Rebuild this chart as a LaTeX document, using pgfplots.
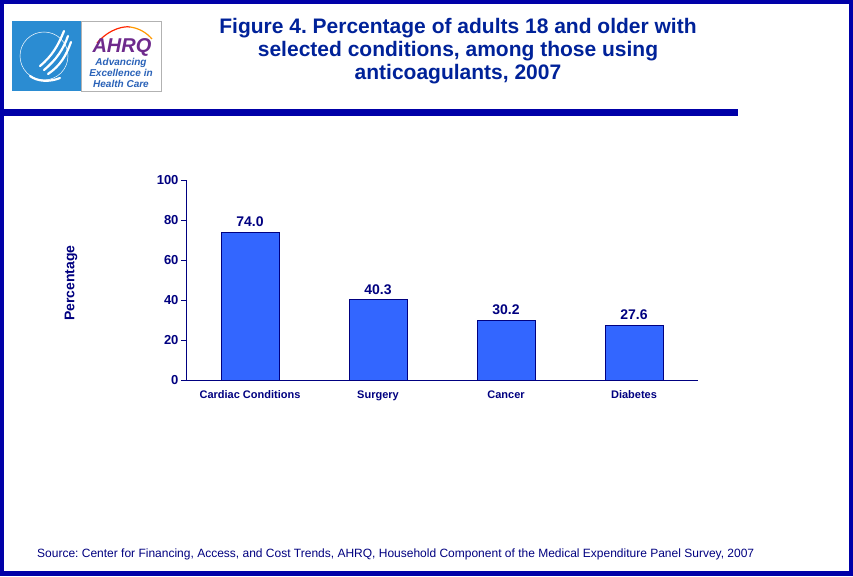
\documentclass[border=0pt]{standalone}
\usepackage{pgfplots}
\pgfplotsset{compat=1.18}
\usepackage{fontspec}
\setmainfont{Liberation Sans}
\frenchspacing
\definecolor{navy}{HTML}{000080}
\definecolor{framec}{HTML}{0000A8}
\definecolor{titlec}{HTML}{002299}
\definecolor{barblue}{HTML}{3366FF}
\definecolor{hhsblue}{HTML}{2B8CD2}
\definecolor{ahrqpurple}{HTML}{6E2A8C}
\definecolor{ahrqblue}{HTML}{2A62B8}
\begin{document}
\begin{tikzpicture}[x=1pt,y=1pt]
% canvas
\path[use as bounding box] (0,0) rectangle (853,576);
% frame
\fill[framec] (0,0) rectangle (853,576);
\fill[white] (4,5) rectangle (849,572);
% horizontal rule
\fill[framec] (0,460) rectangle (738,467);
% logo
\fill[hhsblue] (12,485) rectangle (81,555);
\draw[gray!60, line width=0.6] (81,485) rectangle (161,555);
\begin{scope}[white, line width=2.2, line cap=round]
\draw (40,510) .. controls (52,520) and (58,530) .. (64,545);
\draw (44,506) .. controls (56,516) and (63,526) .. (68,540);
\draw (48,502) .. controls (60,510) and (66,520) .. (71,534);
\draw (30,500) .. controls (38,494) and (50,494) .. (60,498);
\end{scope}
\draw[white, line width=0.5] (44,520) circle (24);
\draw[red!70!orange, line width=1.2] (97,533) .. controls (110,548) and (125,550) .. (130,549);
\draw[orange!80!yellow, line width=1.2] (130,549) .. controls (138,548) and (146,544) .. (152,537);
\node[ahrqpurple, font=\bfseries\itshape\fontsize{20}{20}\selectfont] at (122,529) {AHRQ};
\node[ahrqblue, font=\bfseries\itshape\fontsize{10}{11}\selectfont, align=center] at (121,503) {Advancing\\Excellence in\\Health Care};
% title
\node[titlec, font=\bfseries\fontsize{21}{23}\selectfont, align=center] at (458,525) {Figure 4. Percentage of adults 18 and older with\\selected conditions, among those using\\anticoagulants, 2007};
% source
\node[navy, anchor=west, inner sep=0pt, font=\fontsize{12}{12}\selectfont] at (37,22) {Source: Center for Financing, Access, and Cost Trends, AHRQ, Household Component of the Medical Expenditure Panel Survey, 2007};
% y label
\node[navy, rotate=90, font=\bfseries\fontsize{14}{14}\selectfont] at (71,293) {Percentage};
\begin{axis}[
  at={(186pt,195.5pt)}, anchor=south west,
  scale only axis, width=512pt, height=200pt,
  xmin=-0.5, xmax=3.5, ymin=0, ymax=100,
  axis lines*=left,
  axis line style={navy, line width=1pt},
  ytick={0,20,40,60,80,100},
  xtick={0,1,2,3},
  xticklabels={Cardiac Conditions, Surgery, Cancer, Diabetes},
  major x tick style={draw=none},
  extra x ticks={0.5,1.5,2.5,3.5},
  extra x tick labels={},
  extra x tick style={tick style={navy, line width=1pt}, major tick length=5pt, tick align=outside},
  ytick style={navy, line width=1pt},
  tick align=outside, major tick length=5pt,
  /pgf/number format/assume math mode=true,
  yticklabel style={navy, font=\bfseries\fontsize{13}{13}\selectfont, xshift=1pt},
  xticklabel style={navy, font=\bfseries\fontsize{11}{11}\selectfont, text height=8pt, text depth=2.5pt, yshift=-1pt},
  ybar, bar width=58pt,
  nodes near coords,
  nodes near coords style={navy, yshift=2pt, font=\bfseries\fontsize{14}{14}\selectfont, /pgf/number format/fixed, /pgf/number format/fixed zerofill, /pgf/number format/precision=1, /pgf/number format/assume math mode=true},
  clip=false,
]
\addplot[fill=barblue, draw=navy, line width=0.8pt] coordinates {(0,74.0) (1,40.3) (2,30.2) (3,27.6)};
\end{axis}
\end{tikzpicture}
\end{document}
